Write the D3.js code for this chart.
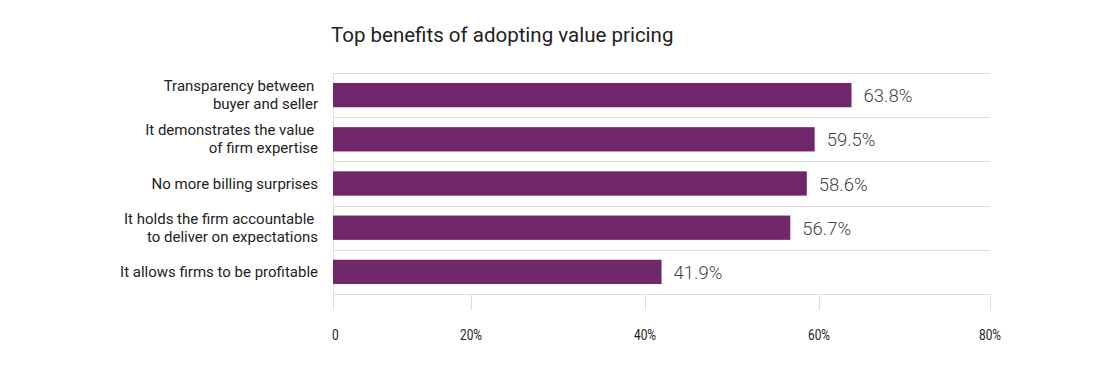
<!DOCTYPE html>
<meta charset="utf-8">
<style>
body { margin: 0; background: #fff; }
svg text { font-family: Roboto, "Noto Sans", sans-serif; }
.grid line { stroke: #dedede; stroke-width: 1; }
.cat { font-size: 15px; fill: #222; white-space: pre; }
.val { font-size: 18.5px; font-weight: 300; fill: #444; }
.tick text { font-family: Roboto, sans-serif; font-size: 14px; fill: #222; }
</style>
<svg width="1097" height="383"></svg>
<script src="https://d3js.org/d3.v7.min.js"></script>
<script>
var categories = [
  ["Transparency between ", "buyer and seller"],
  ["It demonstrates the value ", "of firm expertise"],
  ["No more billing surprises"],
  ["It holds the firm accountable ", "to deliver on expectations"],
  ["It allows firms to be profitable"]
];
var values = [63.8, 59.5, 58.6, 56.7, 41.9];
var ticks = [0, 20, 40, 60, 80];

var svg = d3.select("svg");
var plotLeft = 333, plotRight = 990, plotTop = 73, plotBottom = 294;

// the source axis is not evenly spaced, so follow its tick positions
var x = d3.scaleLinear().domain(ticks).range([plotLeft, 471, 645, 819, plotRight]);
var y = d3.scaleBand().domain(d3.range(values.length)).range([plotTop, plotBottom]).paddingInner(0.45).paddingOuter(0.225);

svg.append("text")
  .attr("x", 331).attr("y", 42)
  .attr("font-size", "20.5px").attr("fill", "#222")
  .text("Top benefits of adopting value pricing");

// grid
var g = svg.append("g").attr("class", "grid");
var bandEdges = d3.range(values.length + 1).map(function(i) { return plotTop + i * (plotBottom - plotTop) / values.length; });
g.selectAll(".h").data(bandEdges).enter().append("line")
  .attr("x1", plotLeft).attr("x2", plotRight)
  .attr("y1", function(d) { return Math.round(d) + 0.5; })
  .attr("y2", function(d) { return Math.round(d) + 0.5; });
g.append("line").attr("x1", plotLeft + 0.5).attr("x2", plotLeft + 0.5).attr("y1", plotTop).attr("y2", plotBottom);
g.selectAll(".v").data(ticks).enter().append("line")
  .attr("x1", function(d) { return Math.round(x(d)) + 0.5; })
  .attr("x2", function(d) { return Math.round(x(d)) + 0.5; })
  .attr("y1", plotBottom).attr("y2", plotBottom + 16);

// condensed-looking tick labels
svg.append("g").attr("class", "tick")
  .selectAll("text").data(ticks).enter().append("text")
  .attr("transform", function(d) { return "translate(" + (d === 0 ? x(d) - 1 : x(d)) + ",340) scale(0.85,1)"; })
  .attr("text-anchor", function(d) { return d === 0 ? "start" : "middle"; })
  .text(function(d) { return d === 0 ? "0" : d + "%"; });

svg.selectAll(".bar").data(values).enter().append("rect")
  .attr("x", x(0))
  .attr("y", function(d, i) { return y(i); })
  .attr("width", function(d) { return x(d) - x(0); })
  .attr("height", y.bandwidth())
  .attr("fill", "#70266b");

svg.selectAll(".val").data(values).enter().append("text")
  .attr("class", "val")
  .attr("x", function(d) { return x(d) + 12; })
  .attr("y", function(d, i) { return y(i) + y.bandwidth() / 2 + 7; })
  .text(function(d) { return d.toFixed(1) + "%"; });

svg.selectAll(".cat").data(categories).enter().append("text")
  .attr("class", "cat")
  .attr("text-anchor", "end")
  .attr("x", 318)
  .attr("y", function(d, i) {
    var c = y(i) + y.bandwidth() / 2;
    return d.length === 1 ? c + 5 : c - 4;
  })
  .each(function(d) {
    var t = d3.select(this);
    d.forEach(function(line, k) {
      t.append("tspan").attr("x", 318).attr("dy", k === 0 ? 0 : 18).text(line);
    });
  });
</script>
